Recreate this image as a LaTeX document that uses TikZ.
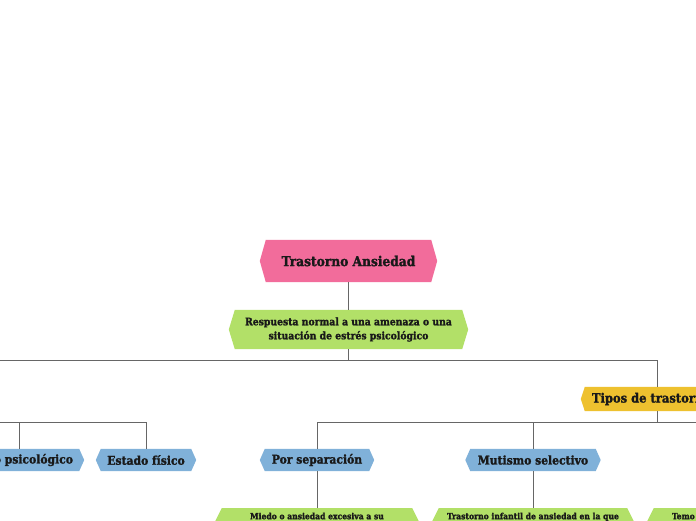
\documentclass[tikz,border=0pt]{standalone}
\usepackage{fontspec}
\setmainfont{DejaVu Serif Condensed}[BoldFeatures={FakeBold=1.6}]
\usetikzlibrary{backgrounds}
\definecolor{cpink}{HTML}{F26C9B}
\definecolor{cgreen}{HTML}{B2E068}
\definecolor{cyellow}{HTML}{EEC12F}
\definecolor{cblue}{HTML}{80B1D9}
\definecolor{cline}{HTML}{666666}
\newcommand\hexbg[3]{\fill[#2] (#1.west) -- ([xshift=#3]#1.north west) -- ([xshift=-#3]#1.north east) -- (#1.east) -- ([xshift=-#3]#1.south east) -- ([xshift=#3]#1.south west) -- cycle;}
\tikzset{
  box/.style={rectangle, inner sep=0pt, font=\bfseries, text=black!90},
  conn/.style={draw=cline, line width=0.8pt},
}
\begin{document}
\begin{tikzpicture}[x=1pt,y=-1pt]
\useasboundingbox (0,0) rectangle (696,520);
\clip (0,0) rectangle (696,520);
% nodes
\node[box, minimum width=177pt, minimum height=42pt, font=\bfseries\fontsize{13.6}{15}\selectfont] (ta) at (348.5,261) {Trastorno Ansiedad};
\node[box, minimum width=239pt, minimum height=39pt, align=center, font=\bfseries\fontsize{10.3}{14}\selectfont] (resp) at (348.5,329.5) {Respuesta normal a una amenaza o una\\situación de estrés psicológico};
\node[box, minimum width=152pt, minimum height=24pt, font=\bfseries\fontsize{12.8}{14}\selectfont] (tipos) at (657,399) {\makebox[130pt][l]{Tipos de trastornos}};
\node[box, minimum width=130pt, minimum height=22pt, font=\bfseries\fontsize{12}{13}\selectfont] (estpsi) at (19,460) {\makebox[108pt][r]{Estado psicológico}};
\node[box, minimum width=100pt, minimum height=22pt, font=\bfseries\fontsize{12}{13}\selectfont] (estfis) at (146,460) {Estado físico};
\node[box, minimum width=114pt, minimum height=22pt, font=\bfseries\fontsize{12}{13}\selectfont] (sep) at (317,460) {Por separación};
\node[box, minimum width=135pt, minimum height=22pt, font=\bfseries\fontsize{12}{13}\selectfont] (mut) at (533,460) {Mutismo selectivo};
\node[box, anchor=north, minimum width=212pt, text height=11pt, text depth=33pt, font=\bfseries\fontsize{8.5}{10}\selectfont] (miedo) at (317,508) {Miedo o ansiedad excesiva a su};
\node[box, anchor=north, minimum width=210pt, text height=11pt, text depth=33pt, font=\bfseries\fontsize{8.5}{10}\selectfont] (trinf) at (533,508) {Trastorno infantil de ansiedad en la que};
\node[box, anchor=north, minimum width=212pt, text height=11pt, text depth=33pt, font=\bfseries\fontsize{8.5}{10}\selectfont] (temo) at (749,508) {\makebox[154pt][l]{Temo}};
% off-picture branch points
\coordinate (lpar) at (-80,387);
\coordinate (lparb) at (-80,411);
\coordinate (thirdb) at (749,449);
% backgrounds
\begin{scope}[on background layer]
\fill[white] (0,0) rectangle (696,520);
\hexbg{ta}{cpink}{6pt}
\hexbg{resp}{cgreen}{6pt}
\hexbg{tipos}{cyellow}{4pt}
\hexbg{estpsi}{cblue}{5pt}
\hexbg{estfis}{cblue}{5pt}
\hexbg{sep}{cblue}{5pt}
\hexbg{mut}{cblue}{5pt}
\hexbg{miedo}{cgreen}{11pt}
\hexbg{trinf}{cgreen}{11pt}
\hexbg{temo}{cgreen}{11pt}
\end{scope}
% connectors
\draw[conn] (ta.south) -- (resp.north);
\draw[conn] (resp.south) -- ++(0,11) -| (tipos.north);
\draw[conn] (resp.south) -- ++(0,11) -| (lpar);
\draw[conn] (lparb) -- ++(0,11) -| (estpsi.north);
\draw[conn] (lparb) -- ++(0,11) -| (estfis.north);
\draw[conn] (tipos.south) -- ++(0,11) -| (sep.north);
\draw[conn] (tipos.south) -- ++(0,11) -| (mut.north);
\draw[conn] (tipos.south) -- ++(0,11) -| (thirdb);
\draw[conn] (sep.south) -- (miedo.north);
\draw[conn] (mut.south) -- (trinf.north);
\end{tikzpicture}
\end{document}
